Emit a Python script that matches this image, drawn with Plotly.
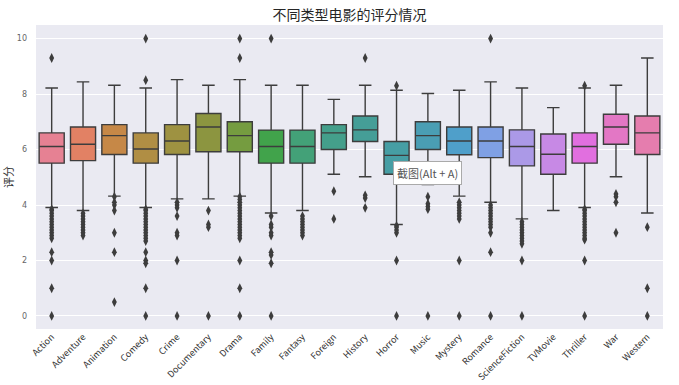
import math
import colorsys
import plotly.graph_objects as go

# ---------------- data ----------------
genres = ["Action", "Adventure", "Animation", "Comedy", "Crime", "Documentary", "Drama",
          "Family", "Fantasy", "Foreign", "History", "Horror", "Music", "Mystery", "Romance",
          "ScienceFiction", "TVMovie", "Thriller", "War", "Western"]
q1 = [5.51, 5.60, 5.82, 5.51, 5.82, 5.92, 5.92, 5.51, 5.51, 6.00, 6.29, 5.11, 6.00, 5.81, 5.71,
      5.41, 5.11, 5.51, 6.19, 5.82]
median = [6.11, 6.19, 6.50, 6.02, 6.31, 6.81, 6.50, 6.11, 6.11, 6.60, 6.71, 5.79, 6.50, 6.31, 6.31,
          6.11, 5.83, 6.11, 6.81, 6.60]
q3 = [6.60, 6.81, 6.90, 6.60, 6.90, 7.30, 7.00, 6.70, 6.70, 6.90, 7.21, 6.29, 7.00, 6.81, 6.81,
      6.71, 6.56, 6.60, 7.27, 7.21]
lower_whisker = [3.91, 3.80, 4.32, 3.91, 4.22, 4.22, 4.32, 3.71, 3.80, 5.11, 5.02, 3.30, 4.74, 4.32,
                 4.10, 3.50, 3.80, 3.91, 5.02, 3.71]
upper_whisker = [8.22, 8.44, 8.32, 8.22, 8.52, 8.32, 8.52, 8.32, 8.32, 7.81, 8.32, 8.14, 8.02, 8.14,
                 8.44, 8.22, 7.51, 8.22, 8.32, 9.30]
outliers = {
    "Action": [9.3, 3.85, 3.8, 3.7, 3.6, 3.5, 3.4, 3.3, 3.2, 3.1, 3.0, 2.9, 2.8, 2.3, 2.0, 1.0, 0.0],
    "Adventure": [3.7, 3.6, 3.5, 3.4, 3.3, 3.2, 3.1, 3.0, 2.9],
    "Animation": [4.3, 4.1, 4.0, 3.8, 3.0, 2.3, 0.5],
    "Comedy": [10.0, 8.5, 3.85, 3.8, 3.7, 3.6, 3.5, 3.4, 3.3, 3.2, 3.1, 3.0, 2.9, 2.8, 2.7,
               2.3, 2.0, 1.9, 1.0, 0.0],
    "Crime": [4.1, 4.0, 3.9, 3.6, 3.0, 2.9, 2.0, 0.0],
    "Documentary": [3.8, 3.3, 3.2, 0.0],
    "Drama": [10.0, 9.3, 4.3, 4.2, 4.1, 4.0, 3.9, 3.8, 3.7, 3.6, 3.5, 3.4, 3.3, 3.2, 3.1, 3.0,
              2.9, 2.8, 2.0, 1.0, 0.0],
    "Family": [10.0, 3.6, 3.3, 3.2, 3.0, 2.9, 2.3, 2.2, 1.9, 0.0],
    "Fantasy": [3.6, 3.5, 3.4, 3.3, 3.2, 3.1, 3.0, 2.9],
    "Foreign": [4.5, 3.5],
    "History": [9.3, 4.35, 4.25, 3.9],
    "Horror": [8.3, 3.25, 3.2, 3.1, 3.0, 2.0, 0.0],
    "Music": [4.3, 4.05, 3.95, 3.85, 0.0],
    "Mystery": [4.1, 4.0, 3.9, 3.8, 3.7, 3.6, 3.5, 2.0, 0.0],
    "Romance": [10.0, 4.0, 3.9, 3.8, 3.7, 3.6, 3.5, 3.4, 3.3, 3.2, 3.0, 2.3, 0.0],
    "ScienceFiction": [3.4, 3.3, 3.2, 3.1, 3.0, 2.9, 2.8, 2.7, 2.6, 2.0, 0.0],
    "TVMovie": [],
    "Thriller": [8.3, 3.85, 3.8, 3.7, 3.6, 3.5, 3.4, 3.3, 3.2, 3.1, 3.0, 2.9, 2.8, 2.75, 2.0, 0.0],
    "War": [4.4, 4.3, 4.1, 3.0],
    "Western": [3.2, 1.0, 0.0],
}
y_ticks = [0, 2, 4, 6, 8, 10]
title_text = "不同类型电影的评分情况"
y_title = "评分"

# ---------------- husl palette (seaborn style) ----------------
M = [[3.2406, -1.5372, -0.4986],
     [-0.9689, 1.8758, 0.0415],
     [0.0557, -0.2040, 1.0570]]
refU, refV = 0.19784, 0.46834


def max_chroma(L, H):
    hrad = math.radians(H)
    sinH, cosH = math.sin(hrad), math.cos(hrad)
    sub1 = ((L + 16) ** 3.0) / 1560896.0
    sub2 = sub1 if sub1 > 0.008856 else (L / 903.3)
    result = float("inf")
    for m1, m2, m3 in M:
        top = (0.99915 * m1 + 1.05122 * m2 + 1.14460 * m3) * sub2
        rbottom = 0.86330 * m3 - 0.17266 * m2
        lbottom = 0.12949 * m3 - 0.38848 * m1
        bottom = (rbottom * sinH + lbottom * cosH) * sub2
        for t in (0.0, 1.0):
            C = L * (top - 1.05122 * t) / (bottom + 0.17266 * sinH * t)
            if 0.0 < C < result:
                result = C
    return result


def husl_to_rgb(H, S, L):
    C = max_chroma(L, H) / 100.0 * S
    hr = math.radians(H)
    U, V = math.cos(hr) * C, math.sin(hr) * C
    t = (L + 16.0) / 116.0
    varY = t ** 3 if t ** 3 > 0.008856 else (116.0 * t - 16.0) / 903.3
    varU = U / (13.0 * L) + refU
    varV = V / (13.0 * L) + refV
    Y = varY
    X = 0.0 - (9.0 * Y * varU) / ((varU - 4.0) * varV - varU * varV)
    Z = (9.0 * Y - (15.0 * varV * Y) - (varV * X)) / (3.0 * varV)
    out = []
    for row in M:
        c = row[0] * X + row[1] * Y + row[2] * Z
        c = 12.92 * c if c <= 0.0031308 else 1.055 * c ** (1 / 2.4) - 0.055
        out.append(min(max(c, 0.0), 1.0))
    return out


def palette(n, h=0.01, s=0.9, l=0.65, sat=0.75):
    cols = []
    for i in range(n):
        hue = ((i / n + h) % 1) * 359
        r, g, b = husl_to_rgb(hue, s * 99, l * 99)
        hh, ll, ss = colorsys.rgb_to_hls(r, g, b)
        r, g, b = colorsys.hls_to_rgb(hh, ll, ss * sat)
        cols.append("rgb(%d,%d,%d)" % (round(r * 255), round(g * 255), round(b * 255)))
    return cols


colors = palette(len(genres))
line_gray = "#3d3d3d"

fig = go.Figure()
for i, g in enumerate(genres):
    fig.add_trace(go.Box(
        x=[g], q1=[q1[i]], median=[median[i]], q3=[q3[i]],
        lowerfence=[lower_whisker[i]], upperfence=[upper_whisker[i]],
        fillcolor=colors[i], line=dict(color=line_gray, width=1.4),
        whiskerwidth=0.5, width=0.8, boxpoints=False, showlegend=False,
        hoverinfo="skip",
    ))
    pts = outliers[g]
    if pts:
        fig.add_trace(go.Scatter(
            x=[g] * len(pts), y=pts, mode="markers",
            marker=dict(symbol="diamond-tall", size=7, color=line_gray),
            showlegend=False, hoverinfo="skip",
        ))

fig.add_annotation(
    x=0.625, y=0.513, xref="paper", yref="paper", xanchor="center", yanchor="middle",
    text="截图(Alt + A)", showarrow=False,
    font=dict(family="Noto Sans CJK SC", size=11, color="#555555"),
    bgcolor="white", bordercolor="#aaaaaa", borderwidth=1, borderpad=3,
)

fig.update_layout(
    width=679, height=385,
    margin=dict(l=36, r=16, t=25, b=56),
    paper_bgcolor="white", plot_bgcolor="#EAEAF2",
    boxmode="overlay",
    title=dict(text=title_text, xref="paper", x=0.5, xanchor="center", y=0.962, yanchor="middle",
               font=dict(family="Noto Sans CJK SC", size=14, color="#262626")),
    font=dict(family="Noto Sans CJK SC", color="#333333"),
)
fig.update_xaxes(
    categoryorder="array", categoryarray=genres, range=[-0.5, len(genres) - 0.5],
    showgrid=False, zeroline=False, showline=False, ticks="", automargin=False,
    tickangle=-45, tickfont=dict(family="Noto Sans CJK SC", size=9, color="#333333"),
)
fig.update_yaxes(
    range=[-0.47, 10.49], tickvals=y_ticks, showgrid=True, gridcolor="white", gridwidth=1,
    zeroline=False, showline=False, ticks="", automargin=False, ticklabelstandoff=8,
    tickfont=dict(family="DejaVu Sans", size=8, color="#666666"),
    title=dict(text=y_title, font=dict(family="Noto Sans CJK SC", size=11, color="#333333"),
               standoff=2),
)

fig.write_html("out.html", config={"displayModeBar": False},
               post_script="document.body.style.margin='0';")
